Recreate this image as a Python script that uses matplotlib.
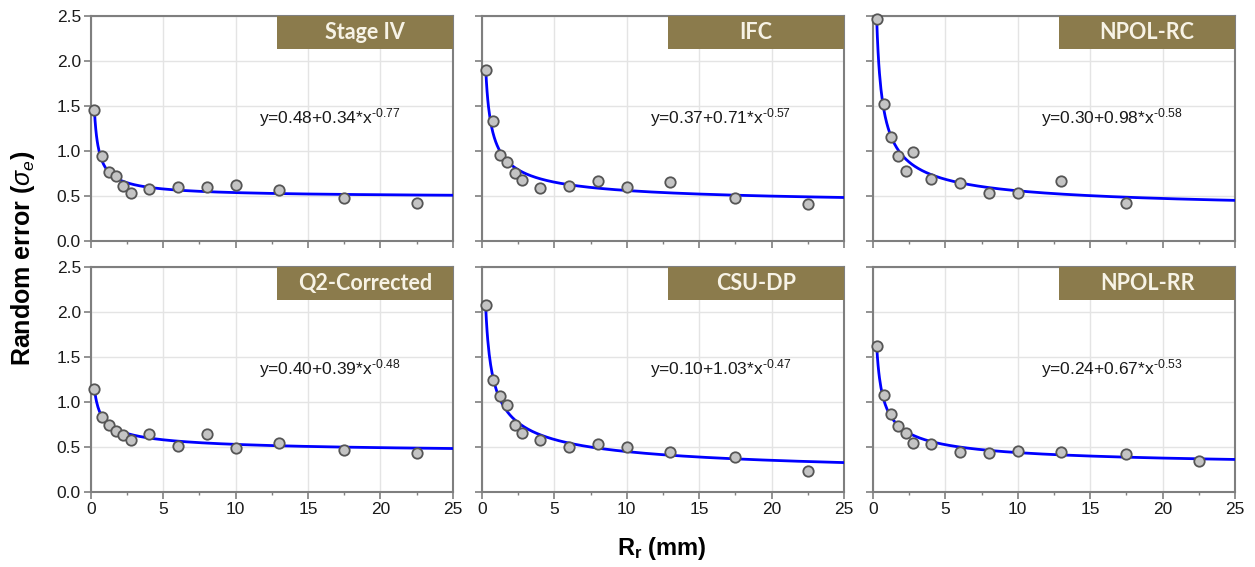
import matplotlib
matplotlib.use("Agg")
import matplotlib.pyplot as plt
import numpy as np

plt.rcParams['font.family'] = ['Liberation Sans', 'DejaVu Sans']
plt.rcParams['mathtext.fontset'] = 'custom'
plt.rcParams['mathtext.rm'] = 'Liberation Sans'
plt.rcParams['mathtext.it'] = 'Liberation Sans:italic'
plt.rcParams['mathtext.bf'] = 'Liberation Sans:bold'

# ---- data ----
titles = ["Stage IV", "IFC", "NPOL-RC", "Q2-Corrected", "CSU-DP", "NPOL-RR"]
x_pts = [0.25, 0.75, 1.25, 1.75, 2.25, 2.75, 4, 6, 8, 10, 13, 17.5, 22.5]
y_stage4 = [1.46, 0.94, 0.77, 0.725, 0.61, 0.53, 0.58, 0.595, 0.595, 0.62, 0.565, 0.48, 0.42]
y_ifc = [1.90, 1.33, 0.96, 0.88, 0.755, 0.68, 0.59, 0.61, 0.67, 0.595, 0.66, 0.48, 0.41]
y_npolrc = [2.47, 1.52, 1.15, 0.945, 0.78, 0.99, 0.685, 0.64, 0.53, 0.53, 0.67, 0.42]
y_q2 = [1.14, 0.83, 0.747, 0.676, 0.635, 0.583, 0.639, 0.509, 0.639, 0.494, 0.546, 0.464, 0.438]
y_csu = [2.08, 1.24, 1.07, 0.97, 0.745, 0.655, 0.577, 0.499, 0.536, 0.495, 0.44, 0.392, 0.232]
y_npolrr = [1.62, 1.08, 0.87, 0.73, 0.66, 0.547, 0.536, 0.45, 0.435, 0.461, 0.443, 0.42, 0.342]
series = [y_stage4, y_ifc, y_npolrc, y_q2, y_csu, y_npolrr]

# fit parameters shown on the chart: y = a + b * x^c
fit_a = [0.48, 0.37, 0.30, 0.40, 0.10, 0.24]
fit_b = [0.34, 0.71, 0.98, 0.39, 1.03, 0.67]
fit_c = [-0.77, -0.57, -0.58, -0.48, -0.47, -0.53]

x_ticks = [0, 5, 10, 15, 20, 25]
y_ticks = [0.0, 0.5, 1.0, 1.5, 2.0, 2.5]

# ---- figure ----
W, H = 1255, 567
fig = plt.figure(figsize=(W / 100, H / 100), dpi=100)
fig.patch.set_facecolor('white')

col_left = [90.7, 482, 873]
col_w = 362
row_top = [16, 267]
row_h = 225

box_color = '#8b7b4c'
spine_color = '#7f7f7f'

for i in range(6):
    r, c = divmod(i, 3)
    l = col_left[c] / W
    b = 1 - (row_top[r] + row_h) / H
    ax = fig.add_axes([l, b, col_w / W, row_h / H])
    ax.set_xlim(0, 25)
    ax.set_ylim(0, 2.5)
    ax.set_xticks(x_ticks)
    ax.set_yticks(y_ticks)
    ax.set_xticks(np.arange(2.5, 25, 5), minor=True)
    ax.grid(True, which='major', color='#e4e4e4', linewidth=1.0)
    ax.set_axisbelow(True)
    for s in ax.spines.values():
        s.set_color(spine_color)
        s.set_linewidth(1.5)
    ax.tick_params(axis='both', which='major', direction='out', length=5, width=1.2,
                   color=spine_color, labelsize=12.5, labelcolor='#1a1a1a', pad=2)
    ax.tick_params(axis='x', which='minor', direction='out', length=2.5, width=1.0,
                   color=spine_color)
    if c != 0:
        ax.tick_params(axis='y', labelleft=False)
    else:
        ax.set_yticklabels([f"{v:.1f}" for v in y_ticks])
    if r == 0:
        ax.tick_params(axis='x', labelbottom=False)

    xs = x_pts[:len(series[i])]
    xf = np.linspace(0.25, 25, 500)
    yf = fit_a[i] + fit_b[i] * xf ** fit_c[i]
    ax.plot(xf, yf, color='#0000ff', linewidth=2.0, zorder=3)
    ax.plot(xs, series[i], 'o', markersize=7.5, markerfacecolor='#c4c4c4',
            markeredgecolor='#555555', markeredgewidth=1.3, zorder=4, clip_on=False)

    # label box
    ax.add_patch(plt.Rectangle((0.514, 0.853), 0.486, 0.147, transform=ax.transAxes,
                               facecolor=box_color, edgecolor='none', zorder=5))
    ax.text(0.757, 0.926, titles[i], transform=ax.transAxes, ha='center', va='center',
            fontsize=15.5, fontweight='bold', family=['Lato', 'DejaVu Sans'],
            color='#f7f3e6', zorder=6)

    # equation
    exp_txt = f"{abs(fit_c[i]):.2f}"
    eq = f"y={fit_a[i]:.2f}+{fit_b[i]:.2f}*x" + r"$^{\mathrm{" + "\u2010" + exp_txt + r"}}$"
    ax.text(11.6, 1.37, eq, ha='left', va='center', fontsize=12.5, color='#1a1a1a', zorder=6)

fig.text(23 / W, 1 - 258 / H, r"Random error ($\sigma_e$)", rotation=90, ha='center',
         va='center', fontsize=18, fontweight='bold')
fig.text(662 / W, 1 - 548 / H, r"R$_\mathbf{r}$ (mm)", ha='center', va='center',
         fontsize=17, fontweight='bold')

fig.savefig('out.png', dpi=100)
